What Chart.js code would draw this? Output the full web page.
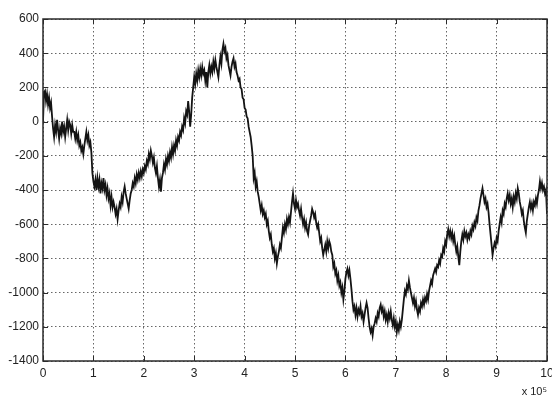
<!DOCTYPE html>
<html>
<head>
<meta charset="utf-8">
<script src="https://cdn.jsdelivr.net/npm/chart.js@4.4.1/dist/chart.umd.min.js"></script>
<style>
  html, body { margin: 0; padding: 0; background: #fff; }
  canvas { display: block; }
</style>
</head>
<body>
<canvas id="walk" width="552" height="401"></canvas>
<script>
// random walk, one sample every 0.02 (x 10^5) from 0 to 10
const walkStart = [0];
const walk0to2 = [
  170, 180, 120, 160, 100, 140, 80, 110, 30, -40,
  -90, -20, -60, 10, -50, -100, -40, -70, 0, -60,
  -30, -90, -40, 10, -50, 0, -20, -70, -20, -60,
  -60, -100, -60, -110, -80, -140, -120, -170, -150, -190,
  -140, -100, -60, -110, -80, -140, -120, -180, -300, -350,
  -380, -340, -400, -330, -380, -340, -420, -360, -390, -330,
  -400, -370, -430, -390, -450, -420, -490, -440, -500, -470,
  -500, -540, -510, -570, -520, -480, -500, -440, -470, -410,
  -380, -420, -450, -480, -510, -460, -420, -400, -360, -380,
  -330, -360, -310, -340, -300, -330, -290, -320, -280, -300
];
const walk2to4 = [
  -260, -280, -230, -250, -190, -220, -170, -200, -240, -210,
  -270, -300, -260, -330, -380, -340, -410, -330, -300, -250,
  -280, -220, -250, -200, -230, -180, -210, -150, -190, -140,
  -170, -110, -140, -90, -110, -60, -80, -30, -50, 20,
  -10, 60, 40, 120, 60, -30, 40, 140, 200, 260,
  220, 280, 240, 300, 260, 310, 270, 320, 280, 300,
  240, 290, 200, 290, 330, 280, 320, 290, 350, 310,
  360, 320, 290, 260, 330, 380, 340, 420, 455, 410,
  430, 370, 390, 330, 300, 270, 320, 350, 370, 320,
  340, 290, 270, 240, 250, 200, 190, 140, 130, 80
];
const walk4to6 = [
  70, 30, 20, -30, -60, -90, -140, -200, -330, -300,
  -380, -350, -410, -440, -480, -520, -490, -540, -520, -560,
  -540, -600, -580, -640, -680, -660, -720, -760, -740, -800,
  -770, -830, -790, -760, -720, -740, -680, -620, -650, -600,
  -630, -570, -600, -560, -590, -530, -470, -420, -480, -510,
  -460, -500, -480, -520, -550, -510, -560, -600, -570, -620,
  -590, -640, -660, -610, -580, -550, -510, -530, -560, -540,
  -590, -620, -600, -650, -700, -680, -740, -780, -750, -720,
  -760, -700, -740, -700, -720, -760, -780, -850, -830, -890,
  -870, -930, -900, -960, -940, -1000, -970, -1040, -990, -920
];
const walk6to8 = [
  -880, -860, -900, -870, -920, -980, -1050, -1100, -1080, -1130,
  -1090, -1140, -1100, -1120, -1080, -1140, -1120, -1170, -1130, -1090,
  -1060, -1090, -1150, -1200, -1230, -1210, -1250, -1200, -1180, -1150,
  -1170, -1120, -1140, -1090, -1070, -1110, -1090, -1140, -1110, -1160,
  -1130, -1170, -1120, -1150, -1110, -1160, -1190, -1150, -1200, -1170,
  -1230, -1190, -1220, -1170, -1200, -1160, -1100, -1040, -990, -1010,
  -960, -980, -930, -970, -1000, -1030, -1060, -1030, -1080, -1050,
  -1100, -1130, -1090, -1110, -1060, -1080, -1040, -1070, -1030, -1050,
  -1010, -1040, -990, -960, -930, -950, -900, -880, -860, -880,
  -840, -850, -810, -830, -780, -790, -740, -760, -700, -720
];
const walk8to10 = [
  -660, -630, -670, -640, -680, -650, -700, -670, -720, -760,
  -730, -790, -840, -760, -700, -660, -690, -640, -670, -650,
  -690, -660, -680, -640, -660, -610, -630, -590, -610, -560,
  -580, -520, -490, -450, -420, -390, -430, -470, -450, -500,
  -480, -530, -600, -660, -720, -780, -740, -710, -730, -680,
  -700, -640, -600, -560, -590, -520, -540, -480, -500, -450,
  -420, -460, -430, -480, -450, -500, -440, -470, -420, -450,
  -390, -420, -470, -500, -540, -520, -580, -620, -650, -580,
  -540, -500, -470, -510, -480, -520, -470, -490, -450, -480,
  -430, -400, -350, -390, -360, -400, -380, -420, -400, -540
];

const xTickValues = [0, 1, 2, 3, 4, 5, 6, 7, 8, 9, 10];
const yTickValues = [600, 400, 200, 0, -200, -400, -600, -800, -1000, -1200, -1400];
const xExponent = 'x 10⁵';

const walk = [...walkStart, ...walk0to2, ...walk2to4, ...walk4to6, ...walk6to8, ...walk8to10];
const xMax = xTickValues[xTickValues.length - 1];
const points = walk.map((v, i) => ({ x: i * xMax / (walk.length - 1), y: v }));

const FONT = "'Liberation Sans', Arial, sans-serif";

// matlab style box with inward ticks on all four sides
const boxPlugin = {
  id: 'box',
  afterDatasetsDraw(chart) {
    const { ctx, chartArea: a, scales: { x, y } } = chart;
    ctx.save();
    ctx.strokeStyle = '#2b2b2b';
    ctx.lineWidth = 1;
    ctx.beginPath();
    x.ticks.forEach(t => {
      const px = Math.round(x.getPixelForValue(t.value)) + 0.5;
      ctx.moveTo(px, a.bottom); ctx.lineTo(px, a.bottom - 5);
      ctx.moveTo(px, a.top); ctx.lineTo(px, a.top + 5);
    });
    y.ticks.forEach(t => {
      const py = Math.round(y.getPixelForValue(t.value)) + 0.5;
      ctx.moveTo(a.left, py); ctx.lineTo(a.left + 5, py);
      ctx.moveTo(a.right, py); ctx.lineTo(a.right - 5, py);
    });
    ctx.stroke();
    ctx.lineWidth = 1.5;
    ctx.strokeRect(a.left, a.top, a.right - a.left, a.bottom - a.top);
    ctx.restore();
  }
};

new Chart(document.getElementById('walk'), {
  type: 'line',
  data: {
    datasets: [{
      data: points,
      borderColor: '#141414',
      borderWidth: 1.8,
      pointRadius: 0,
      tension: 0,
      fill: false,
    }],
  },
  options: {
    responsive: false,
    animation: false,
    devicePixelRatio: 1,
    layout: { padding: { top: 19, right: 5, left: 0, bottom: 0 } },
    plugins: { legend: { display: false }, tooltip: { enabled: false } },
    scales: {
      x: {
        type: 'linear',
        min: 0,
        max: xMax,
        afterBuildTicks: (s) => { s.ticks = xTickValues.map(v => ({ value: v })); },
        afterFit: (s) => { s.height = 40; s.paddingLeft = 0; s.paddingRight = 0; },
        ticks: { color: '#222', font: { family: FONT, size: 12 }, padding: 5, maxRotation: 0, autoSkip: false, callback: (v) => String(v) },
        grid: { color: '#666', lineWidth: 1, drawTicks: false },
        border: { display: false, dash: [1.5, 2.5] },
        title: { display: true, text: xExponent, align: 'end', color: '#222', font: { family: FONT, size: 11 }, padding: { top: 0, bottom: 2 } },
      },
      y: {
        type: 'linear',
        min: -1400,
        max: 600,
        afterBuildTicks: (s) => { s.ticks = yTickValues.map(v => ({ value: v })); },
        afterFit: (s) => { s.width = 43; },
        ticks: { color: '#222', font: { family: FONT, size: 12 }, padding: 4, autoSkip: false, callback: (v) => String(v) },
        grid: { color: '#666', lineWidth: 1, drawTicks: false },
        border: { display: false, dash: [1.5, 2.5] },
      },
    },
  },
  plugins: [boxPlugin],
});
</script>
</body>
</html>
